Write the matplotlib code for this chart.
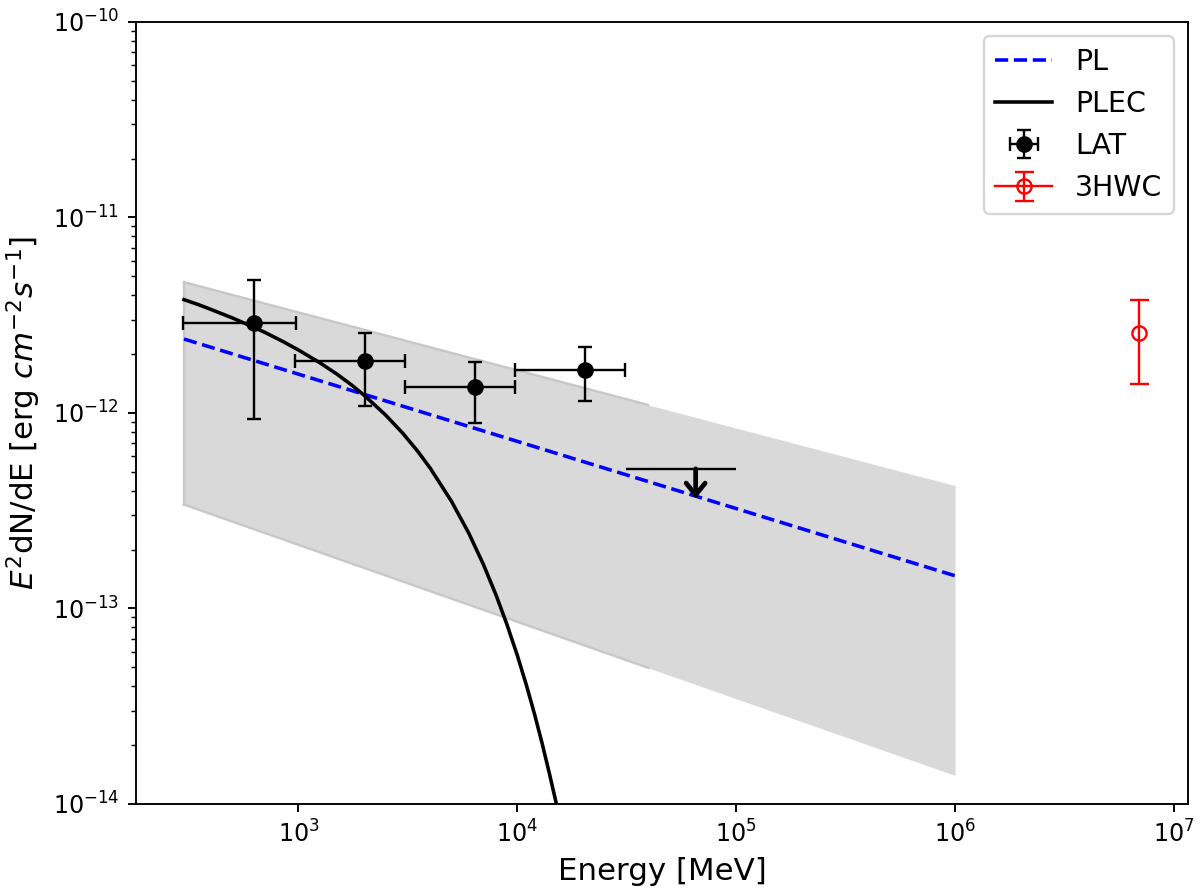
import matplotlib
matplotlib.use('Agg')
import matplotlib.pyplot as plt
from matplotlib.ticker import NullLocator

# LAT spectral points
lat_e = [625, 2010, 6410, 20400]
lat_e_lo = [297, 962, 3060, 9750]
lat_e_hi = [972, 3060, 9750, 31100]
lat_f = [2.89e-12, 1.85e-12, 1.36e-12, 1.66e-12]
lat_f_lo = [9.3e-13, 1.09e-12, 8.9e-13, 1.15e-12]
lat_f_hi = [4.79e-12, 2.57e-12, 1.82e-12, 2.18e-12]

# LAT upper limit
ul_e = [65300]
ul_e_lo = [31300]
ul_e_hi = [100000]
ul_f = [5.18e-13]
ul_tip = [3.64e-13]

# 3HWC point
hawc_e = [6.95e6]
hawc_f = [2.56e-12]
hawc_f_lo = [1.41e-12]
hawc_f_hi = [3.78e-12]

# PL model (straight line in log-log)
pl_e = [300, 1e6]
pl_f = [2.39e-12, 1.47e-13]

# PLEC model
plec_e = [300, 350, 400, 500, 600, 700, 850, 1000, 1250, 1500, 1750, 2000,
          2500, 3000, 3500, 4000, 5000, 6000, 7000, 8000, 9000, 10000, 11000,
          12000, 13000, 14000, 15000, 16000]
plec_f = [3.80e-12, 3.58e-12, 3.38e-12, 3.06e-12, 2.80e-12, 2.59e-12, 2.32e-12,
          2.10e-12, 1.81e-12, 1.58e-12, 1.39e-12, 1.23e-12, 9.77e-13, 7.87e-13,
          6.39e-13, 5.22e-13, 3.54e-13, 2.43e-13, 1.68e-13, 1.17e-13, 8.19e-14,
          5.76e-14, 4.06e-14, 2.87e-14, 2.03e-14, 1.44e-14, 1.03e-14, 7.30e-15]

# uncertainty band
band_e = [300, 39600, 1e6]
band_lo = [3.40e-13, 4.97e-14, 1.40e-14]
band_hi = [4.67e-12, 1.10e-12, 4.25e-13]

# major ticks
x_ticks = [1e3, 1e4, 1e5, 1e6, 1e7]
y_ticks = [1e-14, 1e-13, 1e-12, 1e-11, 1e-10]

dpi = 171
fig = plt.figure(figsize=(1200/dpi, 894/dpi), dpi=dpi)
ax = fig.add_axes([0.1133, 0.1007, 0.8767, 0.8747])

ax.fill_between(band_e, band_lo, band_hi, color='#d9d9d9', lw=0, zorder=0)
ax.plot(band_e[:2], band_hi[:2], color='#c8c8c8', lw=1, zorder=0.5)
ax.plot(band_e[:2], band_lo[:2], color='#c8c8c8', lw=1, zorder=0.5)
ax.plot([band_e[0], band_e[0]], [band_lo[0], band_hi[0]], color='#c8c8c8', lw=1, zorder=0.5)

pl, = ax.plot(pl_e, pl_f, 'b--', lw=1.5, label='PL')
plec, = ax.plot(plec_e, plec_f, 'k-', lw=1.5, label='PLEC')

xerr = [[c - l for c, l in zip(lat_e, lat_e_lo)], [h - c for c, h in zip(lat_e, lat_e_hi)]]
yerr = [[c - l for c, l in zip(lat_f, lat_f_lo)], [h - c for c, h in zip(lat_f, lat_f_hi)]]
lat = ax.errorbar(lat_e, lat_f, xerr=xerr, yerr=yerr, fmt='ko', ms=6,
                  elinewidth=1, capsize=3, label='LAT')

ax.errorbar(ul_e, ul_f, xerr=[[ul_e[0] - ul_e_lo[0]], [ul_e_hi[0] - ul_e[0]]],
            fmt='none', ecolor='k', elinewidth=1, capsize=0)
for e, f, t in zip(ul_e, ul_f, ul_tip):
    ax.annotate('', xy=(e, t), xytext=(e, f),
                arrowprops=dict(arrowstyle='->,head_width=0.4,head_length=0.5',
                                color='k', lw=2, shrinkA=0, shrinkB=0))

hyerr = [[hawc_f[0] - hawc_f_lo[0]], [hawc_f_hi[0] - hawc_f[0]]]
hawc = ax.errorbar(hawc_e, hawc_f, yerr=hyerr, fmt='o-', color='r', mfc='none',
                   ms=6, lw=1, capsize=4, label='3HWC')

ax.set_xscale('log')
ax.set_yscale('log')
ax.set_xticks(x_ticks)
ax.set_yticks(y_ticks)
ax.set_xlim(181, 1.16e7)
ax.set_ylim(1e-14, 1e-10)
ax.xaxis.set_minor_locator(NullLocator())

ax.set_xlabel('Energy [MeV]', fontsize=13)
ax.set_ylabel(r'$E^2$dN/dE [erg $cm^{-2}s^{-1}$]', fontsize=13)

ax.legend([pl, plec, lat, hawc], ['PL', 'PLEC', 'LAT', '3HWC'],
          loc='upper right', fontsize=12)

fig.savefig('out.png', dpi=dpi)
